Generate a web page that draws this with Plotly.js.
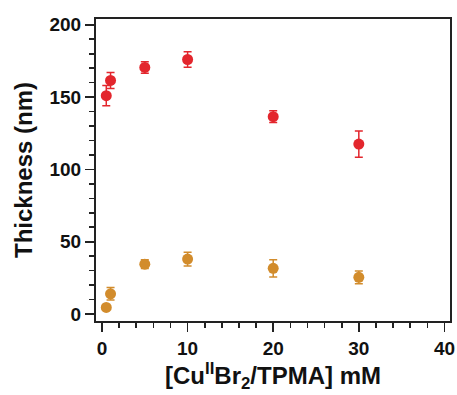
<!DOCTYPE html>
<html>
<head>
<meta charset="utf-8">
<script src="https://cdn.plot.ly/plotly-3.0.1.min.js"></script>
<style>html,body{margin:0;padding:0;background:#fff;}#chart{width:457px;height:395px;}</style>
</head>
<body>
<div id="chart"></div>
<script>
var concentration = [0.5, 1, 5, 10, 20, 30];
var redThickness = [151, 161.5, 170.5, 176, 136.5, 117.5];
var redError = [7, 5.5, 4, 5.4, 4, 9];
var orangeThickness = [4.6, 14, 34.5, 38, 31.6, 25.4];
var orangeError = [0, 4.3, 3, 4.7, 6, 4.4];
var xTicks = [0, 10, 20, 30, 40];
var yTicks = [0, 50, 100, 150, 200];

var red = '#e3262d';
var orange = '#d28c2c';

var traces = [
  {
    x: concentration, y: redThickness, type: 'scatter', mode: 'markers',
    marker: {color: red, size: 11},
    error_y: {type: 'data', array: redError, visible: true, color: red, thickness: 1.5, width: 4},
    showlegend: false
  },
  {
    x: concentration, y: orangeThickness, type: 'scatter', mode: 'markers',
    marker: {color: orange, size: 11},
    error_y: {type: 'data', array: orangeError, visible: true, color: orange, thickness: 1.5, width: 4},
    showlegend: false
  }
];

var axisCommon = {
  showline: true, linecolor: '#222', linewidth: 2, mirror: true,
  showgrid: false, zeroline: false,
  ticks: 'outside', ticklen: 9, tickwidth: 1.6, tickcolor: '#222',
  tickfont: {family: 'Liberation Sans, Arial, sans-serif', size: 19, color: '#111', weight: 'bold'}
};

var layout = {
  width: 457, height: 395,
  margin: {l: 96, r: 7, t: 19, b: 74},
  paper_bgcolor: '#fff', plot_bgcolor: '#fff',
  xaxis: Object.assign({}, axisCommon, {
    range: [-0.7, 40.65],
    tickvals: xTicks, ticktext: xTicks.map(String),
    minor: {dtick: 2, tick0: 0, ticks: 'outside', ticklen: 5, tickwidth: 1.6, tickcolor: '#222'},
    title: {text: '<b>[Cu<sup>II</sup>Br<sub>2</sub>/TPMA] mM</b>', standoff: 6,
      font: {family: 'Liberation Sans, Arial, sans-serif', size: 24, color: '#111'}}
  }),
  yaxis: Object.assign({}, axisCommon, {
    range: [-4.8, 204],
    tickvals: yTicks, ticktext: yTicks.map(String),
    minor: {dtick: 10, tick0: 0, ticks: 'outside', ticklen: 5, tickwidth: 1.6, tickcolor: '#222'},
    title: {text: '<b>Thickness (nm)</b>', standoff: 10,
      font: {family: 'Liberation Sans, Arial, sans-serif', size: 24, color: '#111'}}
  })
};

Plotly.newPlot('chart', traces, layout, {displayModeBar: false, staticPlot: true});
</script>
</body>
</html>
